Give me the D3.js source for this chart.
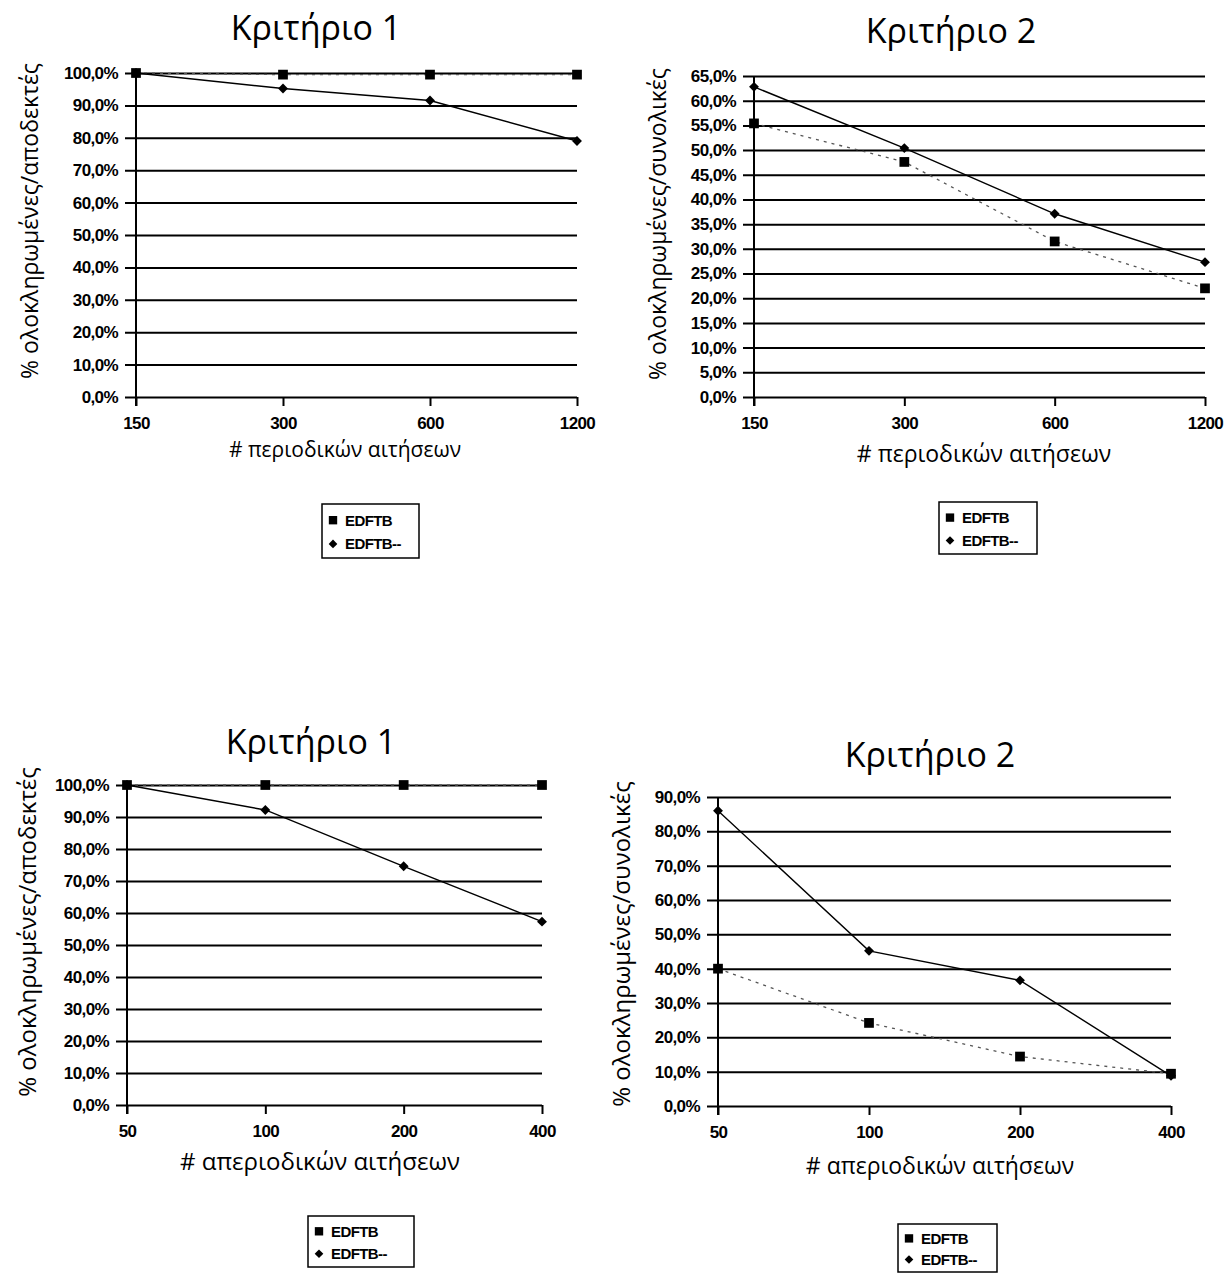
<!DOCTYPE html>
<html>
<head>
<meta charset="utf-8">
<script src="https://cdn.jsdelivr.net/npm/d3@7"></script>
<style>
  html, body { margin: 0; padding: 0; background: #fff; }
  svg { display: block; }
  .tick text { font-family: "Liberation Sans", Arial, sans-serif; font-weight: bold; font-size: 17px; letter-spacing: -0.6px; fill: #000; }
  .title { font-family: "Open Sans", "Noto Sans", sans-serif; font-size: 34px; fill: #000; }
  .axis-title { font-family: "Open Sans", "Noto Sans", sans-serif; fill: #000; }
  .legend text { font-family: "Liberation Sans", Arial, sans-serif; font-weight: bold; font-size: 15px; letter-spacing: -0.6px; fill: #000; }
</style>
</head>
<body>
<svg id="fig" width="1226" height="1273"></svg>
<script>
// Request counts on the x axis
const periodicCounts = [150, 300, 600, 1200];
const aperiodicCounts = [50, 100, 200, 400];

// Y tick values (percent)
const ticksAccepted = [0, 10, 20, 30, 40, 50, 60, 70, 80, 90, 100];
const ticksTotal65 = [0, 5, 10, 15, 20, 25, 30, 35, 40, 45, 50, 55, 60, 65];
const ticksTotal90 = [0, 10, 20, 30, 40, 50, 60, 70, 80, 90];

// Series names
const seriesNames = ["EDFTB", "EDFTB--"];

// Periodic requests, criterion 1 (% completed / accepted)
const periodicC1Edftb = [100, 99.5, 99.5, 99.5];
const periodicC1EdftbMinus = [100, 95.2, 91.5, 79.0];

// Periodic requests, criterion 2 (% completed / total)
const periodicC2Edftb = [55.4, 47.6, 31.5, 22.0];
const periodicC2EdftbMinus = [62.8, 50.4, 37.1, 27.3];

// Aperiodic requests, criterion 1
const aperiodicC1Edftb = [100, 100, 100, 100];
const aperiodicC1EdftbMinus = [100, 92.2, 74.6, 57.3];

// Aperiodic requests, criterion 2
const aperiodicC2Edftb = [40.0, 24.2, 14.4, 9.4];
const aperiodicC2EdftbMinus = [86.0, 45.2, 36.6, 8.8];

const locale = d3.formatLocale({ decimal: ",", thousands: ".", grouping: [3], currency: ["", "€"] });
const pct = v => locale.format(".1f")(v) + "%";

const svg = d3.select("#fig");

const charts = [
  {
    title: "Κριτήριο 1", titleX: 316, titleY: 40,
    yLabel: "% ολοκληρωμένες/αποδεκτές", yLabelX: 30, yLabelY: 221, yLabelSize: 23,
    xLabel: "# περιοδικών αιτήσεων", xLabelX: 345, xLabelY: 457, xLabelSize: 21,
    cats: periodicCounts, yMax: 100, ticks: ticksAccepted,
    a: periodicC1Edftb, b: periodicC1EdftbMinus,
    left: 136, right: 577, top: 73, bottom: 397,
    legend: { x: 322, y: 504, w: 97, h: 54 }
  },
  {
    title: "Κριτήριο 2", titleX: 951, titleY: 43,
    yLabel: "% ολοκληρωμένες/συνολικές", yLabelX: 658, yLabelY: 224, yLabelSize: 23,
    xLabel: "# περιοδικών αιτήσεων", xLabelX: 984, xLabelY: 462, xLabelSize: 23,
    cats: periodicCounts, yMax: 65, ticks: ticksTotal65,
    a: periodicC2Edftb, b: periodicC2EdftbMinus,
    left: 754, right: 1205, top: 76, bottom: 397,
    legend: { x: 939, y: 502, w: 98, h: 52 }
  },
  {
    title: "Κριτήριο 1", titleX: 311, titleY: 754,
    yLabel: "% ολοκληρωμένες/αποδεκτές", yLabelX: 28, yLabelY: 932, yLabelSize: 24,
    xLabel: "# απεριοδικών αιτήσεων", xLabelX: 320, xLabelY: 1170, xLabelSize: 24,
    cats: aperiodicCounts, yMax: 100, ticks: ticksAccepted,
    a: aperiodicC1Edftb, b: aperiodicC1EdftbMinus,
    left: 127, right: 542, top: 785, bottom: 1105,
    legend: { x: 308, y: 1216, w: 106, h: 51 }
  },
  {
    title: "Κριτήριο 2", titleX: 930, titleY: 767,
    yLabel: "% ολοκληρωμένες/συνολικές", yLabelX: 622, yLabelY: 944, yLabelSize: 24,
    xLabel: "# απεριοδικών αιτήσεων", xLabelX: 940, xLabelY: 1174, xLabelSize: 23,
    cats: aperiodicCounts, yMax: 90, ticks: ticksTotal90,
    a: aperiodicC2Edftb, b: aperiodicC2EdftbMinus,
    left: 718, right: 1171, top: 797, bottom: 1106,
    legend: { x: 898, y: 1224, w: 99, h: 48 }
  }
];

const squareSym = d3.symbol().type(d3.symbolSquare).size(95);
const diamondSym = d3.symbol().type(d3.symbolDiamond2).size(62);
const squareLeg = d3.symbol().type(d3.symbolSquare).size(70);
const diamondLeg = d3.symbol().type(d3.symbolDiamond2).size(48);

charts.forEach(c => {
  const g = svg.append("g");
  const x = d3.scalePoint().domain(c.cats).range([c.left, c.right]).padding(0);
  const y = d3.scaleLinear().domain([0, c.yMax]).range([c.bottom, c.top]);
  const W = c.right - c.left;

  // Horizontal gridlines with y tick labels
  const yAxis = g.append("g")
    .attr("transform", `translate(${c.left},0)`)
    .call(d3.axisLeft(y).tickValues(c.ticks).tickFormat(pct).tickSize(-W).tickPadding(18));
  yAxis.select(".domain").remove();
  yAxis.selectAll(".tick line").attr("x1", -11).attr("stroke", "#000").attr("stroke-width", 2);

  // X axis tick marks and labels
  const xAxis = g.append("g")
    .attr("transform", `translate(0,${c.bottom})`)
    .call(d3.axisBottom(x).tickSize(9).tickPadding(11));
  xAxis.select(".domain").remove();
  xAxis.selectAll(".tick line").attr("stroke", "#000").attr("stroke-width", 2);

  // Vertical axis line
  g.append("line")
    .attr("x1", c.left).attr("x2", c.left)
    .attr("y1", y(c.yMax)).attr("y2", c.bottom + 9)
    .attr("stroke", "#000").attr("stroke-width", 2);

  // Series lines
  const line = d3.line().x((d, i) => x(c.cats[i])).y(d => y(d));
  g.append("path").datum(c.a)
    .attr("d", line).attr("fill", "none")
    .attr("stroke", "#555").attr("stroke-width", 1.3).attr("stroke-dasharray", "3,5");
  g.append("path").datum(c.b)
    .attr("d", line).attr("fill", "none")
    .attr("stroke", "#000").attr("stroke-width", 1.4);

  // Markers
  g.selectAll(".sq").data(c.a).enter().append("path")
    .attr("d", squareSym)
    .attr("transform", (d, i) => `translate(${x(c.cats[i])},${y(d)})`)
    .attr("fill", "#000");
  g.selectAll(".dm").data(c.b).enter().append("path")
    .attr("d", diamondSym)
    .attr("transform", (d, i) => `translate(${x(c.cats[i])},${y(d)})`)
    .attr("fill", "#000");

  // Titles
  g.append("text").attr("class", "title")
    .attr("x", c.titleX).attr("y", c.titleY)
    .attr("text-anchor", "middle").text(c.title);
  g.append("text").attr("class", "axis-title")
    .attr("transform", `translate(${c.yLabelX},${c.yLabelY}) rotate(-90)`)
    .attr("text-anchor", "middle").attr("dy", "0.35em")
    .style("font-size", c.yLabelSize + "px").text(c.yLabel);
  g.append("text").attr("class", "axis-title")
    .attr("x", c.xLabelX).attr("y", c.xLabelY)
    .attr("text-anchor", "middle")
    .style("font-size", c.xLabelSize + "px").text(c.xLabel);

  // Legend
  const L = c.legend;
  const lg = g.append("g").attr("class", "legend").attr("transform", `translate(${L.x},${L.y})`);
  lg.append("rect").attr("width", L.w).attr("height", L.h)
    .attr("fill", "#fff").attr("stroke", "#000").attr("stroke-width", 1.5);
  const rowY = [L.h * 0.3, L.h * 0.74];
  lg.append("path").attr("d", squareLeg).attr("transform", `translate(11,${rowY[0]})`).attr("fill", "#000");
  lg.append("path").attr("d", diamondLeg).attr("transform", `translate(11,${rowY[1]})`).attr("fill", "#000");
  seriesNames.forEach((name, i) => {
    lg.append("text").attr("x", 23).attr("y", rowY[i]).attr("dy", "0.36em").text(name);
  });
});
</script>
</body>
</html>
